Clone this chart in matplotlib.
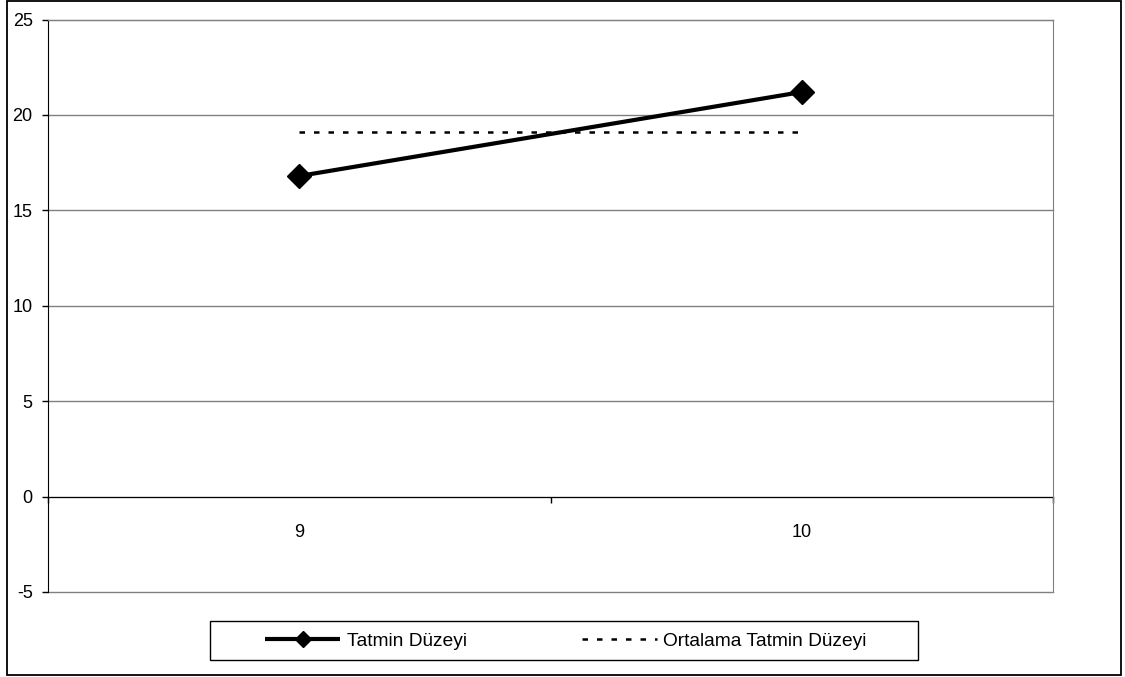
import matplotlib
matplotlib.use("Agg")
import matplotlib.pyplot as plt
from matplotlib.patches import Rectangle

plt.rcParams["font.family"] = ["Liberation Sans", "DejaVu Sans"]
plt.rcParams["axes.unicode_minus"] = False

# Data
categories = ["9", "10"]
tatmin = [16.8, 21.2]
ortalama = 19.1
yticks = [-5, 0, 5, 10, 15, 20, 25]

W, H = 1125, 677
fig = plt.figure(figsize=(W / 100, H / 100), dpi=100)
ax = fig.add_axes([48 / W, 1 - 592 / H, (1053 - 48) / W, (592 - 19.5) / H])

x = list(range(len(categories)))

# horizontal grid, plot-area border in gray
for v in yticks:
    ax.axhline(v, color="#808080", lw=1.0, zorder=1, clip_on=False)

ax.plot(x, tatmin, color="black", lw=3, marker="D", markersize=12.5,
        solid_capstyle="butt", zorder=4, label="Tatmin Düzeyi")
ax.plot(x, [ortalama] * len(x), color="black", lw=1.8,
        linestyle=(0, (2.2, 3.6)), zorder=3, label="Ortalama Tatmin Düzeyi")

ax.set_xlim(-0.5, len(categories) - 0.5)
ax.set_ylim(-5, 25)

# axis line at zero with category tick between groups
ax.spines["bottom"].set_position(("data", 0))
ax.spines["bottom"].set_color("black")
ax.spines["bottom"].set_zorder(2)
ax.spines["left"].set_color("black")
ax.spines["top"].set_color("#808080")
ax.spines["right"].set_color("#808080")

ax.set_xticks(x)
ax.set_xticklabels(categories)
ax.set_xticks([-0.5, 0.5, 1.5], minor=True)
ax.tick_params(axis="x", which="major", length=0, pad=20, labelsize=13)
ax.tick_params(axis="x", which="minor", length=4.5, width=1, direction="out")

ax.set_yticks(yticks)
ax.tick_params(axis="y", length=4, width=1, pad=7, labelsize=13)

# legend with its own frame
fig.patches.append(Rectangle((210 / W, 1 - 660 / H), (918 - 210) / W, 39 / H,
                             transform=fig.transFigure, fill=False,
                             edgecolor="black", lw=1))
fig.legend(loc="center", bbox_to_anchor=(566 / W, 1 - 641 / H), ncol=2,
           frameon=False, fontsize=13.8, handlelength=3.9, handletextpad=0.35,
           columnspacing=6.0, markerscale=0.65)

# outer chart border
fig.patches.append(Rectangle((7 / W, 2 / H), (1121 - 7) / W, 674 / H,
                             transform=fig.transFigure, fill=False,
                             edgecolor="black", lw=1.3))

fig.savefig("out.png", dpi=100)
